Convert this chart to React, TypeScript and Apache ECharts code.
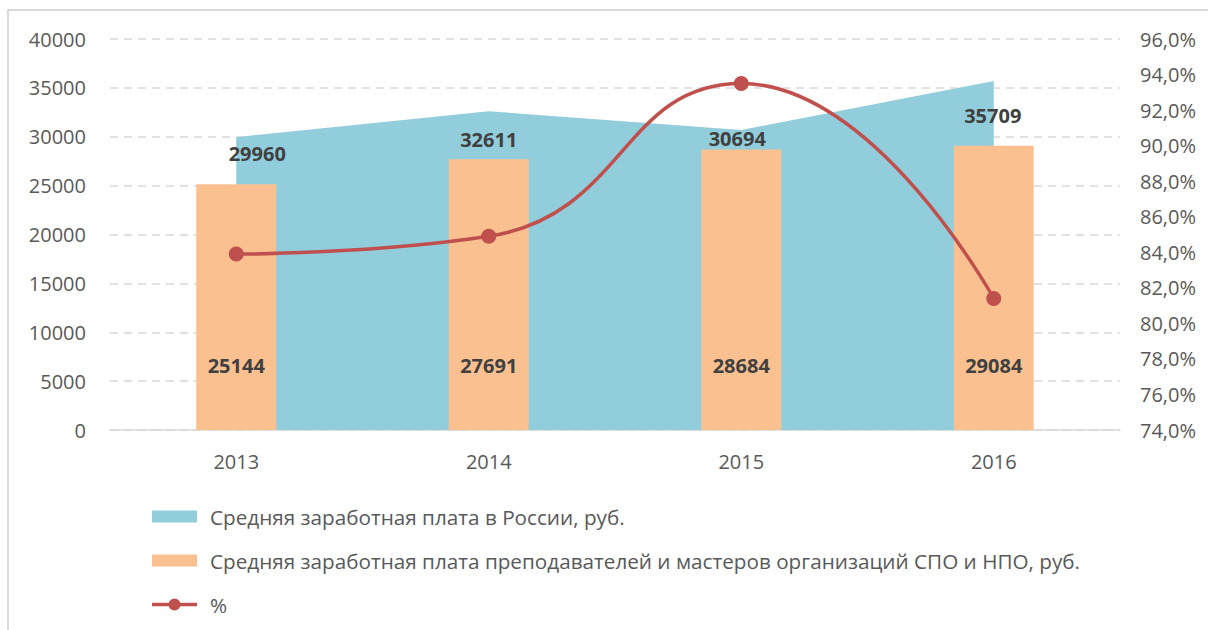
import React, { useEffect, useRef } from "react";
import * as echarts from "echarts";

const years = ["2013", "2014", "2015", "2016"];
const russiaAvg = [29960, 32611, 30694, 35709];
const teachersAvg = [25144, 27691, 28684, 29084];
const percent = [83.9, 84.9, 93.5, 81.4];
const areaLabelOffsets = [[21, 16], [0, 28], [-4, 9], [-1, 35]];

const nameRussia = "Средняя заработная плата в России, руб.";
const nameTeachers = "Средняя заработная плата преподавателей и мастеров организаций СПО и НПО, руб.";
const namePct = "%";

const FONT = "'Open Sans', 'Noto Sans', sans-serif";
const LINE_MARKER_ICON =
  "path://M0,4.3 H45 V7.7 H0 Z M28.5,6 A6,6 0 1 1 16.5,6 A6,6 0 1 1 28.5,6 Z";

export default function App() {
  const ref = useRef<HTMLDivElement>(null);
  useEffect(() => {
    if (!ref.current) return;
    const chart = echarts.init(ref.current, undefined, { renderer: "svg" });
    chart.setOption({
      animation: false,
      backgroundColor: "#ffffff",
      textStyle: { fontFamily: FONT },
      graphic: [
        {
          type: "rect",
          shape: { x: 8, y: 10, width: 1240, height: 660 },
          style: { fill: "none", stroke: "#D9D9D9", lineWidth: 2 },
          silent: true,
        },
      ],
      grid: { left: 110, right: 88, top: 39, bottom: 200, containLabel: false },
      legend: {
        orient: "vertical",
        left: 152,
        top: 506,
        padding: 0,
        itemWidth: 45,
        itemHeight: 12,
        itemGap: 23,
        selectedMode: false,
        textStyle: { fontSize: 20.7, color: "#595959", fontFamily: FONT, padding: [0, 0, 0, 8] },
        data: [
          { name: nameRussia, icon: "rect" },
          { name: nameTeachers, icon: "rect" },
          { name: namePct, icon: LINE_MARKER_ICON },
        ],
      },
      xAxis: {
        type: "category",
        data: years,
        boundaryGap: true,
        axisLine: { lineStyle: { color: "#D9D9D9", width: 1.5 } },
        axisTick: { show: false },
        axisLabel: { fontSize: 20, color: "#595959", margin: 21, fontFamily: FONT },
      },
      yAxis: [
        {
          type: "value",
          min: 0,
          max: 40000,
          interval: 5000,
          axisLine: { show: false },
          axisTick: { show: false },
          axisLabel: {
            fontSize: 20,
            color: "#595959",
            margin: 24,
            fontFamily: FONT,
            formatter: (v: number) => String(v),
          },
          splitLine: { lineStyle: { color: "#D9D9D9", type: [8, 6], width: 1.5 } },
        },
        {
          type: "value",
          min: 74,
          max: 96,
          interval: 2,
          position: "right",
          axisLine: { show: false },
          axisTick: { show: false },
          splitLine: { show: false },
          axisLabel: {
            fontSize: 20,
            color: "#595959",
            margin: 20,
            fontFamily: FONT,
            formatter: (v: number) => v.toFixed(1).replace(".", ",") + "%",
          },
        },
      ],
      series: [
        {
          name: nameRussia,
          type: "line",
          z: 1,
          symbol: "circle",
          symbolSize: 0,
          itemStyle: { color: "#92CDDC" },
          lineStyle: { width: 0, color: "#92CDDC" },
          areaStyle: { color: "#92CDDC", opacity: 1 },
          data: russiaAvg.map((v, i) => ({
            value: v,
            label: { offset: areaLabelOffsets[i] },
          })),
          label: {
            show: true,
            position: "inside",
            fontSize: 20,
            fontWeight: "bold",
            color: "#404040",
            fontFamily: FONT,
          },
        },
        {
          name: nameTeachers,
          type: "bar",
          z: 2,
          barWidth: 80,
          itemStyle: { color: "#FAC090" },
          data: teachersAvg,
          label: {
            show: true,
            position: "insideBottom",
            distance: 55,
            fontSize: 20,
            fontWeight: "bold",
            color: "#404040",
            fontFamily: FONT,
          },
        },
        {
          name: namePct,
          type: "line",
          yAxisIndex: 1,
          z: 3,
          smooth: 0.5,
          symbol: "circle",
          symbolSize: 15,
          itemStyle: { color: "#C0504D" },
          lineStyle: { color: "#C0504D", width: 3.5 },
          data: percent,
        },
      ],
    });
    return () => chart.dispose();
  }, []);
  return (
    <div
      ref={ref}
      style={{ position: "fixed", left: 0, top: 0, width: 1208, height: 630 }}
    />
  );
}
